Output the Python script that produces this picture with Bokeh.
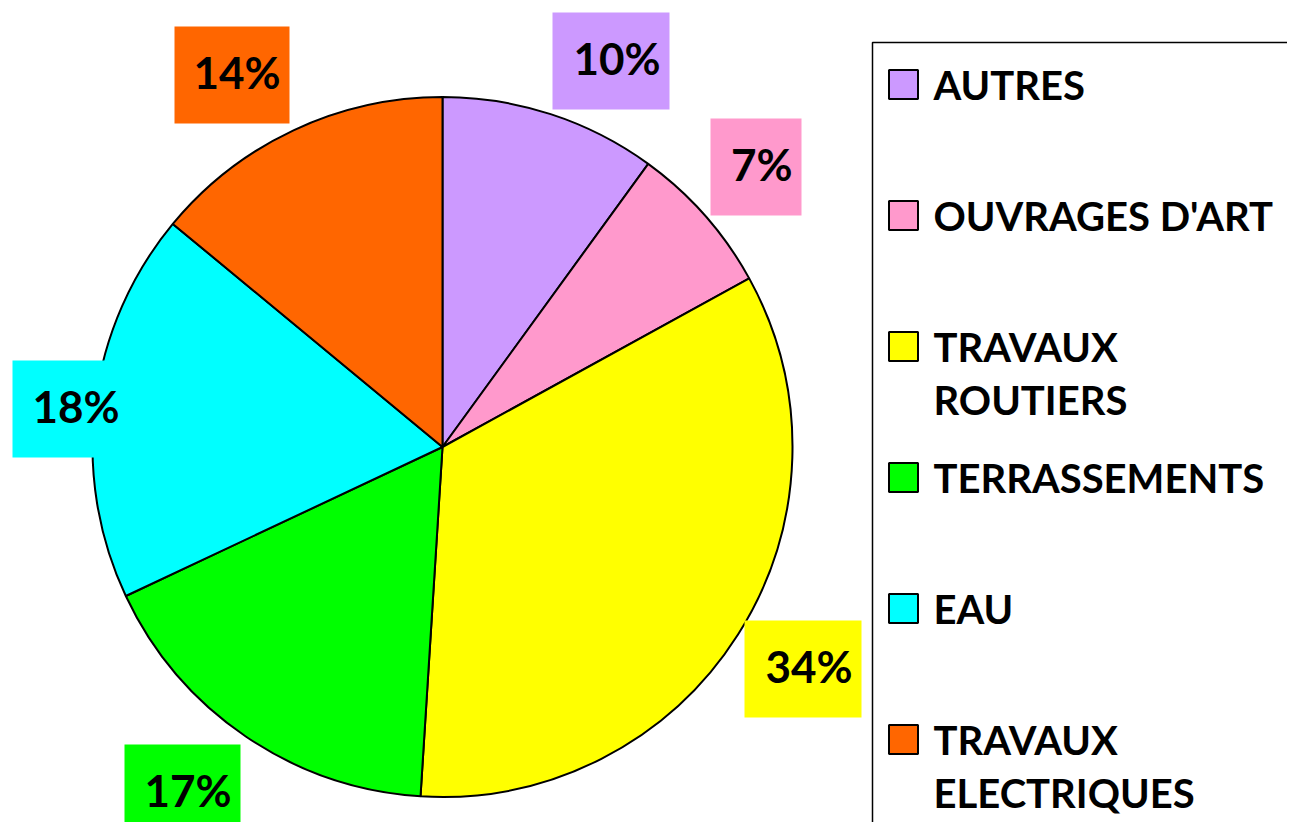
import math
from bokeh.plotting import figure
from bokeh.models import Range1d, ColumnDataSource
from bokeh.core.properties import value
from bokeh.embed import file_html
from bokeh.resources import INLINE

# ---------------- data ----------------
categories = ["AUTRES", "OUVRAGES D'ART", "TRAVAUX ROUTIERS",
              "TERRASSEMENTS", "EAU", "TRAVAUX ELECTRIQUES"]
shares = [10, 7, 34, 17, 18, 14]
colors = ["#CC99FF", "#FF99CC", "#FFFF00", "#00FF00", "#00FFFF", "#FF6600"]
legend_lines = [["AUTRES"], ["OUVRAGES D'ART"], ["TRAVAUX", "ROUTIERS"],
                ["TERRASSEMENTS"], ["EAU"], ["TRAVAUX", "ELECTRIQUES"]]

# ---------------- layout (picture pixels) ----------------
W, H = 1287, 822
def sy(y):
    return H - y

CX, CY, R = 442, 446.5, 350
# label boxes: left, top, right, bottom
label_boxes = [(552, 12, 669, 109), (710, 118, 801, 215), (744, 620, 861, 717),
               (124, 744, 240, 841), (12, 360, 128, 457), (174, 26, 289, 123)]
LEG_LEFT, LEG_TOP = 872, 42
LEG_MARK_X, LEG_TEXT_X = 903, 933
LEG_Y0, LEG_STEP, LEG_LINE = 84, 131, 53

FONT = "Lato"

p = figure(width=W, height=H, output_backend="svg", toolbar_location=None,
           x_range=Range1d(0, W), y_range=Range1d(0, H),
           min_border=0)
p.axis.visible = False
p.grid.visible = False
p.outline_line_color = None
p.background_fill_color = "white"
p.border_fill_color = "white"

total = float(sum(shares))
starts, ends = [], []
cum = 0.0
for s in shares:
    a0 = math.pi / 2 - 2 * math.pi * cum / total
    cum += s
    a1 = math.pi / 2 - 2 * math.pi * cum / total
    starts.append(a0)
    ends.append(a1)

wsrc = ColumnDataSource(dict(start=starts, end=ends, color=colors,
                             cat=categories, share=shares))
p.wedge(x=CX, y=sy(CY), radius=R, start_angle="start", end_angle="end",
        direction="clock", fill_color="color", line_color="black",
        line_width=2, source=wsrc)

# percentage labels
pct = [f"{round(100 * s / total)}%" for s in shares]
bsrc = ColumnDataSource(dict(
    left=[b[0] for b in label_boxes], right=[b[2] for b in label_boxes],
    top=[sy(b[1]) for b in label_boxes], bottom=[sy(b[3]) for b in label_boxes],
    tx=[b[2] - 9 for b in label_boxes],
    ty=[sy((b[1] + b[3]) / 2 - 3) for b in label_boxes],
    color=colors, txt=pct))
p.quad(left="left", right="right", top="top", bottom="bottom",
       fill_color="color", line_color=None, source=bsrc)
p.text(x="tx", y="ty", text="txt", source=bsrc, text_font=value(FONT),
       text_font_style="bold", text_font_size="44px", text_align="right",
       text_baseline="middle", text_color="black")

# legend frame
p.quad(left=[LEG_LEFT], right=[LEG_LEFT + 1000], top=[sy(LEG_TOP)],
       bottom=[sy(LEG_TOP + 1000)], fill_color=None, line_color="black",
       line_width=1.5)

mx, my, mc = [], [], []
tx, ty, tt = [], [], []
for i, lines in enumerate(legend_lines):
    yc = LEG_Y0 + i * LEG_STEP
    mx.append(LEG_MARK_X)
    my.append(sy(yc))
    mc.append(colors[i])
    for j, ln in enumerate(lines):
        tx.append(LEG_TEXT_X)
        ty.append(sy(yc + j * LEG_LINE))
        tt.append(ln)

p.rect(x=mx, y=my, width=29, height=29, fill_color=mc, line_color="black",
       line_width=2)
p.text(x=tx, y=ty, text=tt, text_font=value(FONT), text_font_style="bold",
       text_font_size="40px", text_align="left", text_baseline="middle",
       text_color="black")

open("out.html", "w").write(file_html(p, INLINE))
